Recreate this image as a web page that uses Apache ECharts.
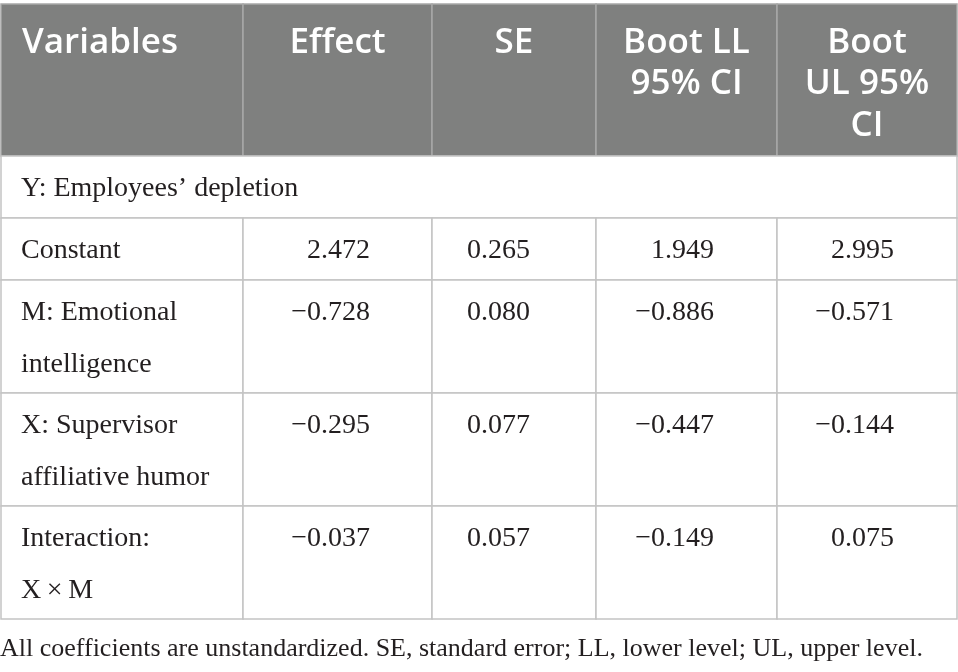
<!DOCTYPE html>
<html>
<head>
<meta charset="utf-8">
<script src="https://cdn.jsdelivr.net/npm/echarts@6/dist/echarts.min.js"></script>
<style>
html, body { margin: 0; padding: 0; background: #fff; }
#main { width: 958px; height: 672px; }
</style>
</head>
<body>
<div id="main"></div>
<script>
// table content
var headers = ['Variables', 'Effect', 'SE', 'Boot LL\n95% CI', 'Boot\nUL 95%\nCI'];
var groupLabel = 'Y: Employees\u2019 depletion';
var variables = ['Constant', 'M: Emotional\nintelligence', 'X: Supervisor\naffiliative humor', 'Interaction:\nX\u2009\u00d7\u2009M'];
var effect = [2.472, -0.728, -0.295, -0.037];
var se = [0.265, 0.080, 0.077, 0.057];
var bootLL = [1.949, -0.886, -0.447, -0.149];
var bootUL = [2.995, -0.571, -0.144, 0.075];
var note = 'All coefficients are unstandardized. SE, standard error; LL, lower level; UL, upper level.';

// layout, in pixels of the hidden axes
var colX = [1, 243, 432, 596, 777, 957];
var rowY = [4, 156, 218, 280, 393, 506, 619];
var numRight = [0, 370, 530, 714, 894];

function fmt(v) {
    return (v < 0 ? '\u2212' : '') + Math.abs(v).toFixed(3);
}

// cells: [first col, last col + 1, row]
var cells = [];
for (var c = 0; c < 5; c++) cells.push([c, c + 1, 0]);
cells.push([0, 5, 1]);
for (var r = 2; r < 6; r++) {
    for (var c = 0; c < 5; c++) cells.push([c, c + 1, r]);
}

// texts
var texts = [];
headers.forEach(function (h, i) { texts.push({ c: i, r: 0, text: h, kind: 'head' }); });
texts.push({ c: 0, r: 1, text: groupLabel, kind: 'label' });
var cols = [effect, se, bootLL, bootUL];
variables.forEach(function (v, i) {
    texts.push({ c: 0, r: i + 2, text: v, kind: 'label' });
    cols.forEach(function (arr, j) {
        texts.push({ c: j + 1, r: i + 2, text: fmt(arr[i]), kind: 'num' });
    });
});
texts.push({ c: 0, r: 6, text: note, kind: 'note' });

var chart = echarts.init(document.getElementById('main'));

var serif = 'Liberation Serif';

option = {
    animation: false,
    grid: { left: 0, right: 0, top: 0, bottom: 0 },
    xAxis: { type: 'value', min: 0, max: 958, show: false },
    yAxis: { type: 'value', min: 0, max: 672, inverse: true, show: false },
    series: [{
        type: 'custom',
        silent: true,
        data: cells,
        renderItem: function (params, api) {
            var r = api.value(2);
            var p0 = api.coord([colX[api.value(0)], rowY[r]]);
            var p1 = api.coord([colX[api.value(1)], rowY[r + 1]]);
            return {
                type: 'rect',
                shape: { x: p0[0], y: p0[1], width: p1[0] - p0[0], height: p1[1] - p0[1] },
                style: {
                    fill: r === 0 ? '#7f807f' : '#fff',
                    stroke: r === 0 ? '#a8a8a8' : '#c4c4c4',
                    lineWidth: 1.5
                }
            };
        }
    }, {
        type: 'custom',
        silent: true,
        data: texts.map(function (t) { return [t.c, t.r]; }),
        renderItem: function (params, api) {
            var t = texts[params.dataIndex];
            var c = t.c, r = t.r;
            var x, y, align = 'left', valign = 'top', style;
            if (t.kind === 'head') {
                x = c === 0 ? colX[0] + 21 : (colX[c] + colX[c + 1]) / 2;
                align = c === 0 ? 'left' : 'center';
                y = 22;
                style = { fontFamily: 'Open Sans', fontWeight: 600, fontSize: 35, fill: '#fff', lineHeight: 41.5 };
            } else if (t.kind === 'note') {
                x = 0;
                y = 649;
                valign = 'middle';
                style = { fontFamily: serif, fontSize: 26, fill: '#231f20' };
            } else {
                x = t.kind === 'num' ? numRight[c] : colX[0] + 20;
                align = t.kind === 'num' ? 'right' : 'left';
                y = rowY[r] + 7;
                style = { fontFamily: serif, fontSize: 28, fill: '#231f20', lineHeight: 52 };
            }
            var p = api.coord([x, y]);
            style.text = t.text;
            style.x = p[0];
            style.y = p[1];
            style.align = align;
            style.verticalAlign = valign;
            return { type: 'text', style: style };
        }
    }]
};

chart.setOption(option);
</script>
</body>
</html>
